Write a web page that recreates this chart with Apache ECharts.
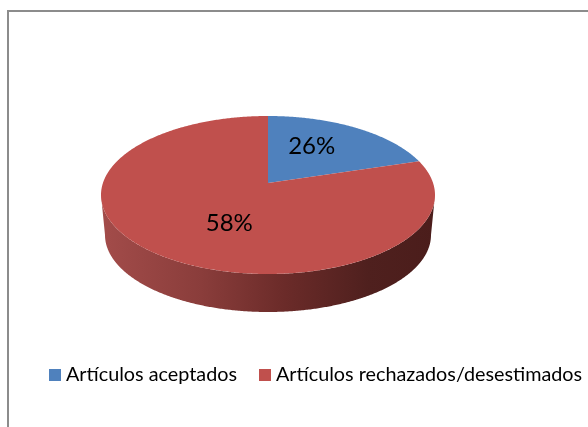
<!DOCTYPE html>
<html>
<head>
<meta charset="utf-8">
<script src="https://cdn.jsdelivr.net/npm/echarts@6/dist/echarts.min.js"></script>
<style>
html, body { margin: 0; padding: 0; background: #fff; }
#chart { width: 588px; height: 427px; }
</style>
</head>
<body>
<div id="chart"></div>
<script>
// legend names, printed labels and the share of the disc each slice covers in the picture
const categories = ['Artículos aceptados', 'Artículos rechazados/desestimados'];
const sliceLabels = ['26%', '58%'];
const sliceShares = [18, 82];
const sliceColors = ['#4f81bd', '#c0504d'];

// tilted disc: the apex sits above the centre of the ellipse, as in the 3D view
const topRim = { cx: 268, cy: 195, rx: 167, ry: 79 };
const bottomRim = { cx: 268, cy: 235, rx: 163, ry: 77 };
const apex = { x: 268, y: 183 };
const labelNudge = [{ x: -1, y: -9 }, { x: 6, y: 1 }];

const total = sliceShares.reduce((a, b) => a + b, 0);

// angle is clockwise from 12 o'clock, in degrees
function onEllipse(e, angle) {
  const t = angle * Math.PI / 180;
  return [e.cx + e.rx * Math.sin(t), e.cy - e.ry * Math.cos(t)];
}

function arc(e, from, to) {
  const pts = [];
  const steps = Math.ceil(Math.abs(to - from) * 2);
  for (let i = 0; i <= steps; i++) {
    pts.push(onEllipse(e, from + (to - from) * i / steps));
  }
  return pts;
}

function renderSlice(params, api) {
  const index = params.seriesIndex;
  const start = api.value(0) / total * 360;
  const end = start + api.value(1) / total * 360;
  const children = [];

  // only the slice crossing the front of the disc shows a side wall
  if (start <= 90 && end >= 270) {
    children.push({
      type: 'polygon',
      shape: { points: arc(topRim, 90, 270).concat(arc(bottomRim, 270, 90)) },
      style: {
        fill: new echarts.graphic.LinearGradient(0, 0, 1, 0, [
          { offset: 0, color: '#a34c4a' },
          { offset: 0.3, color: '#8a3d3b' },
          { offset: 0.55, color: '#6b2b29' },
          { offset: 0.8, color: '#4f201e' },
          { offset: 1, color: '#4b1d1b' }
        ])
      }
    });
  }

  children.push({
    type: 'polygon',
    shape: { points: [[apex.x, apex.y]].concat(arc(topRim, start, end)) },
    style: { fill: sliceColors[index] }
  });

  const mid = onEllipse(topRim, (start + end) / 2);
  children.push({
    type: 'text',
    style: {
      text: sliceLabels[index],
      x: apex.x + (mid[0] - apex.x) * 0.5 + labelNudge[index].x,
      y: apex.y + (mid[1] - apex.y) * 0.5 + labelNudge[index].y,
      align: 'center',
      verticalAlign: 'middle',
      fill: '#000',
      font: '24px Lato, sans-serif'
    }
  });

  return { type: 'group', children: children };
}

let running = 0;
const series = categories.map((name, i) => {
  const item = [running, sliceShares[i]];
  running += sliceShares[i];
  return {
    name: name,
    type: 'custom',
    coordinateSystem: 'none',
    silent: true,
    itemStyle: { color: sliceColors[i] },
    encode: { value: [0, 1] },
    data: [item],
    renderItem: renderSlice
  };
});

const chart = echarts.init(document.getElementById('chart'), null, { renderer: 'canvas' });
chart.setOption({
  animation: false,
  backgroundColor: '#fff',
  graphic: [{
    type: 'rect',
    silent: true,
    shape: { x: 8, y: 11, width: 800, height: 600 },
    style: { fill: 'none', stroke: '#8c8c8c', lineWidth: 2 }
  }],
  legend: {
    left: 49,
    top: 365,
    width: 560,
    padding: 0,
    icon: 'rect',
    itemWidth: 12,
    itemHeight: 12,
    itemGap: 22,
    selectedMode: false,
    data: categories,
    textStyle: { color: '#000', fontFamily: 'Lato', fontSize: 19.8 }
  },
  series: series
});
</script>
</body>
</html>
